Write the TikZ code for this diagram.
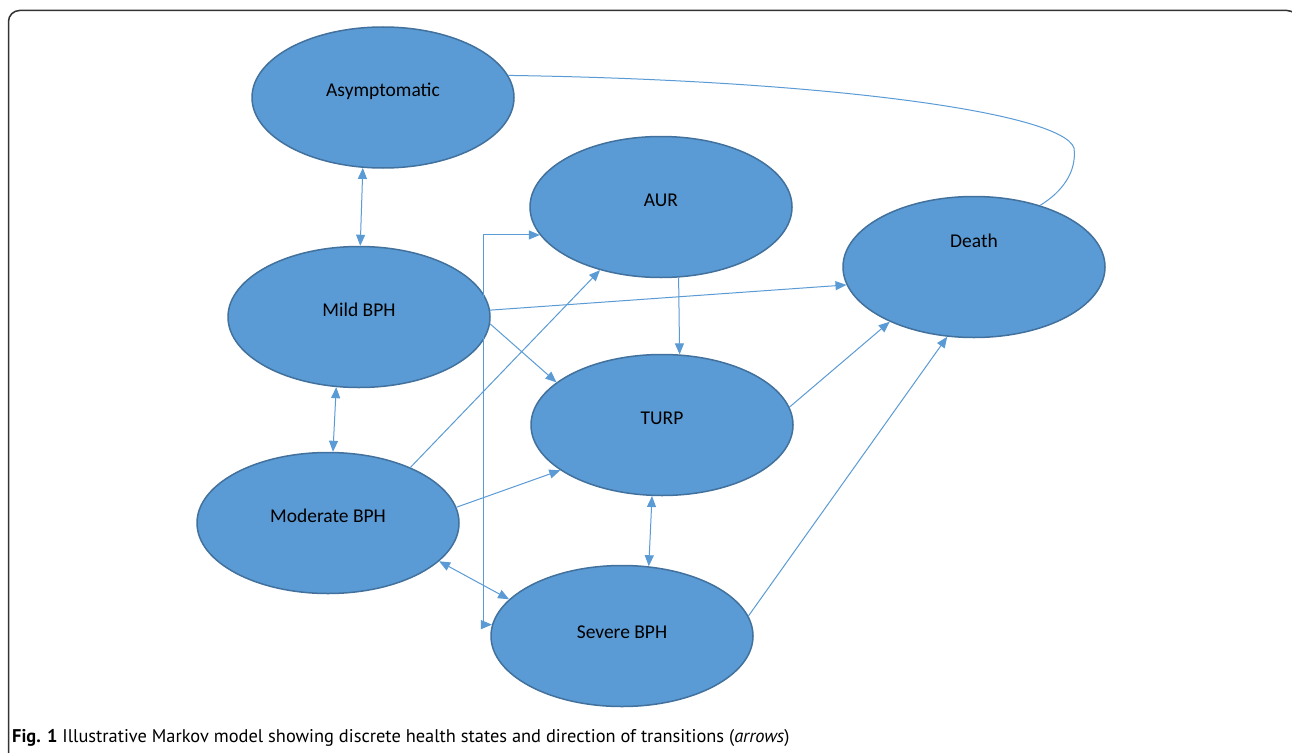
\documentclass[tikz,border=0pt]{standalone}
\usepackage{fontspec}
\setmainfont{Carlito}
\newfontfamily\capfont{PT Sans}
\usetikzlibrary{arrows.meta,shapes.geometric,calc}
\definecolor{stfill}{HTML}{5B9BD5}
\definecolor{stdraw}{HTML}{41719C}
\definecolor{conn}{HTML}{5B9BD5}
\begin{document}
\begin{tikzpicture}[x=1pt,y=-1pt,
  st/.style={ellipse,draw=stdraw,fill=stfill,line width=1.5pt,minimum width=262pt,minimum height=141pt,inner sep=0pt},
  lbl/.style={font=\fontsize{19.5}{22}\selectfont,text=black,inner sep=0pt},
  cn/.style={draw=conn,line width=1pt},
  tip/.style={-{Triangle[length=11pt,width=9pt]}},
  dtip/.style={{Triangle[length=11pt,width=9pt]}-{Triangle[length=11pt,width=9pt]}}]
\useasboundingbox (0,0) rectangle (1292,752);
\fill[white] (0,0) rectangle (1292,752);
\draw[line width=1.5pt,black!80,rounded corners=11pt] (8.5,800) -- (8.5,10.5) -- (1298,10.5) -- (1298,800);
% states
\node[st] (asy) at (383,97.5) {};
\node[st] (aur) at (661,207) {};
\node[st] (dea) at (974,267) {};
\node[st] (mil) at (359,317) {};
\node[st] (tur) at (662,425) {};
\node[st] (mod) at (328,523) {};
\node[st] (sev) at (622,636) {};
\node[lbl] (asyl) at ($(asy)+(0,-6)$) {Asymptomatic};
\node[lbl] (aurl) at ($(aur)+(0,-7)$) {AUR};
\node[lbl] (deal) at ($(dea)+(0,-26)$) {Death};
\node[lbl] (mill) at ($(mil)+(0,-7)$) {Mild BPH};
\node[lbl] (turl) at ($(tur)+(0,-7)$) {TURP};
\node[lbl] (modl) at ($(mod)+(0,-7)$) {Moderate BPH};
\node[lbl] (sevl) at ($(sev)+(0,-4)$) {Severe BPH};
% connectors
\draw[cn,dtip] (asy.254.6) -- (mil.89);
\draw[cn,dtip] (mil.252.8) -- (mod.86.6);
\draw[cn,dtip] (mod.341.3) -- (sev.162.6);
\draw[cn,dtip] (tur.262.7) -- (sev.69.3);
\draw[cn,tip] (mil.3.1) -- (dea.188.6);
\draw[cn,tip] (mil.357.8) -- (tur.158.1);
\draw[cn,tip] (mod.34.8) -- (aur.226);
\draw[cn,tip] (mod.7.9) -- (tur.204.4);
\draw[cn,tip] (aur.284.4) -- (tur.76.3);
\draw[cn,tip] (tur.8.3) -- (dea.213.8);
\draw[cn,tip] (sev.9.5) -- (dea.249.5);
\coordinate (bend) at (1074,148);
\draw[cn] (asy.10.5) .. controls (820,80) and (1062,112) .. (bend) .. controls (1077,172) and (1062,192) .. (dea.43.6);
\draw[cn,dtip] (aur.193.5) -- ++(-56,0) |- (sev.175.1);
% caption
\node[anchor=base west,inner sep=0pt,font=\capfont\fontsize{18.4}{21}\selectfont] (cap) at (12,742)
  {\textbf{Fig. 1} Illustrative Markov model showing discrete health states and direction of transitions (\textit{arrows})};
\end{tikzpicture}
\end{document}
